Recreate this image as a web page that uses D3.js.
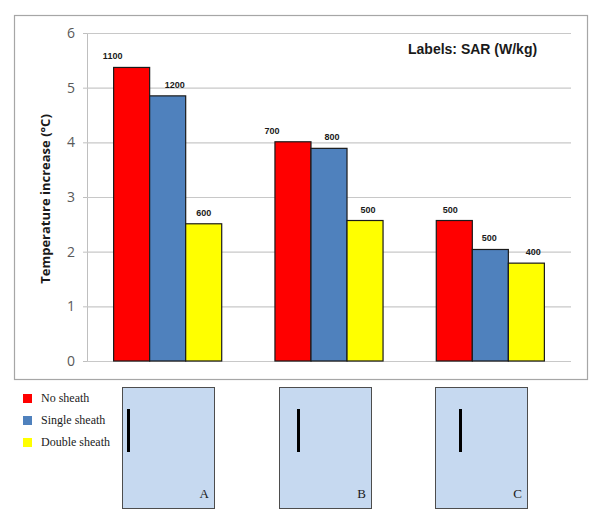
<!DOCTYPE html>
<html>
<head>
<meta charset="utf-8">
<script src="https://cdn.jsdelivr.net/npm/d3@7"></script>
<style>
  html, body { margin: 0; padding: 0; background: #fff; }
  svg { display: block; }
</style>
</head>
<body>
<svg id="chart" width="600" height="524"></svg>
<script>
// ---- data ----
const categories = ["A", "B", "C"];
const seriesNames = ["No sheath", "Single sheath", "Double sheath"];
const noSheath = [5.37, 4.01, 2.57];
const singleSheath = [4.85, 3.89, 2.04];
const doubleSheath = [2.51, 2.57, 1.79];
const sarNoSheath = ["1100", "700", "500"];
const sarSingleSheath = ["1200", "800", "500"];
const sarDoubleSheath = ["600", "500", "400"];
const yTicks = [0, 1, 2, 3, 4, 5, 6];

// ---- layout / styles ----
const colors = ["#ff0000", "#4f81bd", "#ffff00"];
const labelShift = [[-19, 7, 0], [-21, 3, 3], [-4, -1, 7]]; // manual label nudges (px)
const svg = d3.select("#chart");
const margin = { left: 87, right: 571, top: 33, bottom: 361 };

const values = [noSheath, singleSheath, doubleSheath];
const sars = [sarNoSheath, sarSingleSheath, sarDoubleSheath];

// outer chart border
svg.append("rect").attr("x", 14.5).attr("y", 15.5).attr("width", 573).attr("height", 364)
  .attr("fill", "#fff").attr("stroke", "#a6a6a6").attr("stroke-width", 1.2);

const x0 = d3.scaleBand().domain(categories).range([margin.left, margin.right])
  .paddingInner(0.33).paddingOuter(0.165);
const x1 = d3.scaleBand().domain(seriesNames).range([0, x0.bandwidth()]);
const y = d3.scaleLinear().domain([0, 6]).range([margin.bottom, margin.top]);

// gridlines + axis
const yAxis = d3.axisLeft(y).tickValues(yTicks).tickSize(4).tickPadding(8).tickFormat(d3.format("d"));
const gy = svg.append("g").attr("transform", `translate(${margin.left},0)`).call(yAxis);
gy.select(".domain").attr("stroke", "#bfbfbf");
gy.selectAll(".tick line").attr("stroke", "#bfbfbf");
gy.selectAll(".tick text").attr("fill", "#595959")
  .style("font-family", "'Open Sans', 'Noto Sans', sans-serif").style("font-size", "14px");

svg.append("g").selectAll("line").data(yTicks).join("line")
  .attr("x1", margin.left).attr("x2", margin.right)
  .attr("y1", d => y(d) + 0.5).attr("y2", d => y(d) + 0.5)
  .attr("stroke", "#c8c8c8").attr("stroke-width", 1.2);

// bars
const groups = svg.append("g").selectAll("g").data(categories).join("g")
  .attr("transform", d => `translate(${x0(d)},0)`);

groups.each(function(cat, ci) {
  const g = d3.select(this);
  seriesNames.forEach((s, si) => {
    const v = values[si][ci];
    g.append("rect")
      .attr("x", x1(s)).attr("y", y(v))
      .attr("width", x1.bandwidth()).attr("height", y(0) - y(v))
      .attr("fill", colors[si]).attr("stroke", "#1a1a1a").attr("stroke-width", 1.2);
    g.append("text")
      .attr("x", x1(s) + x1.bandwidth() / 2 + labelShift[ci][si])
      .attr("y", y(v) - 8)
      .attr("text-anchor", "middle")
      .style("font-family", "'Liberation Sans', Arial, sans-serif")
      .style("font-weight", "bold").style("font-size", "9px").attr("fill", "#1a1a1a")
      .text(sars[si][ci]);
  });
});

// y axis title
svg.append("text")
  .attr("transform", `translate(50,${(margin.top + margin.bottom) / 2 + 2}) rotate(-90)`)
  .attr("text-anchor", "middle")
  .style("font-family", "'Open Sans', 'Noto Sans', sans-serif")
  .style("font-weight", "bold").style("font-size", "13px").attr("fill", "#1a1a1a")
  .text("Temperature increase (°C)");

// annotation
svg.append("text").attr("x", 408).attr("y", 54)
  .style("font-family", "'Liberation Sans', Arial, sans-serif")
  .style("font-weight", "bold").style("font-size", "14px").attr("fill", "#1a1a1a")
  .text("Labels: SAR (W/kg)");

// legend
const legend = svg.append("g").selectAll("g").data(seriesNames).join("g")
  .attr("transform", (d, i) => `translate(23,${394 + i * 22})`);
legend.append("rect").attr("width", 9).attr("height", 9).attr("fill", (d, i) => colors[i]);
legend.append("text").attr("x", 18).attr("y", 8)
  .style("font-family", "'Liberation Serif', 'Times New Roman', serif")
  .style("font-size", "12px").attr("fill", "#1a1a1a").text(d => d);

// configuration panels A, B, C
const panelX = [122, 279, 435];
const rodOffset = [6, 19, 25];
categories.forEach((c, i) => {
  const px = panelX[i];
  svg.append("rect").attr("x", px + 0.5).attr("y", 387.5).attr("width", 92).attr("height", 121)
    .attr("fill", "#c6d9f0").attr("stroke", "#4d4d4d").attr("stroke-width", 1);
  svg.append("line").attr("x1", px + rodOffset[i] + 0.5).attr("x2", px + rodOffset[i] + 0.5)
    .attr("y1", 409).attr("y2", 452).attr("stroke", "#000").attr("stroke-width", 3);
  svg.append("text").attr("x", px + 87).attr("y", 498).attr("text-anchor", "end")
    .style("font-family", "'Liberation Serif', 'Times New Roman', serif")
    .style("font-size", "13px").attr("fill", "#1a1a1a").text(c);
});
</script>
</body>
</html>
